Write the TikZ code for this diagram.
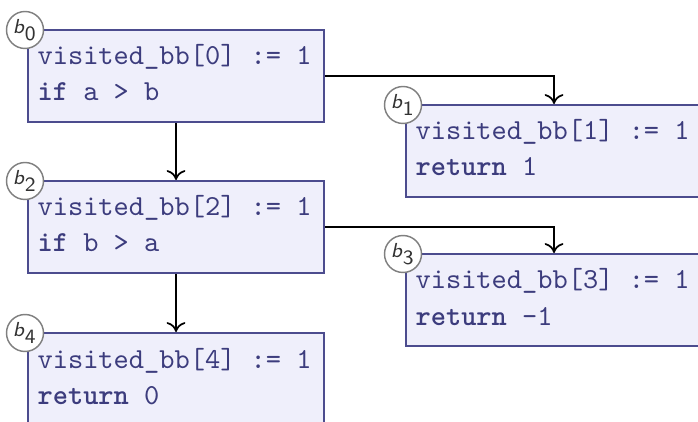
\documentclass[tikz,border=0pt]{standalone}
\usetikzlibrary{arrows.meta}

% one drawing unit
\newlength\pxu
\setlength\pxu{0.3448pt}

\definecolor{bbfill}{RGB}{239,239,251}
\definecolor{bbline}{RGB}{76,76,142}
\definecolor{bbtext}{RGB}{60,60,125}
\definecolor{tagline}{RGB}{128,128,128}

\begin{document}
\begin{tikzpicture}[x=\pxu, y=-\pxu,
  bb/.style={draw=bbline, fill=bbfill, line width=0.7pt,
    minimum width=296\pxu, minimum height=92\pxu,
    inner sep=0pt, anchor=north west},
  code/.style={anchor=base west, inner sep=0pt, text=bbtext,
    font=\ttfamily\fontsize{10pt}{12pt}\selectfont},
  tag/.style={circle, draw=tagline, fill=white, line width=0.5pt,
    minimum size=37\pxu, inner sep=0pt, text=black!80,
    font=\sffamily\scriptsize},
  flow/.style={line width=0.6pt, black,
    -{Computer Modern Rightarrow[length=3.4pt,width=6.5pt]}}]

\useasboundingbox (0,0) rectangle (698,422);
\clip (0,0) rectangle (698,422);

% basic blocks
\node[bb] (b0) at (27,29)  {};
\node[bb] (b1) at (405,104) {};
\node[bb] (b2) at (27,180) {};
\node[bb] (b3) at (405,253) {};
\node[bb] (b4) at (27,332) {};

% control flow
\draw[flow] (b0.east)  -| (b1.north);
\draw[flow] (b0.south) -- (b2.north);
\draw[flow] (b2.east)  -| (b3.north);
\draw[flow] (b2.south) -- (b4.north);

% block contents
\node[code] (b0a) at ([shift={(10,36)}]b0.north west) {visited\_bb[0] := 1};
\node[code] (b0b) at ([shift={(10,72)}]b0.north west) {\textbf{if} a > b};
\node[code] (b1a) at ([shift={(10,36)}]b1.north west) {visited\_bb[1] := 1};
\node[code] (b1b) at ([shift={(10,72)}]b1.north west) {\textbf{return} 1};
\node[code] (b2a) at ([shift={(10,36)}]b2.north west) {visited\_bb[2] := 1};
\node[code] (b2b) at ([shift={(10,72)}]b2.north west) {\textbf{if} b > a};
\node[code] (b3a) at ([shift={(10,36)}]b3.north west) {visited\_bb[3] := 1};
\node[code] (b3b) at ([shift={(10,72)}]b3.north west) {\textbf{return} -1};
\node[code] (b4a) at ([shift={(10,36)}]b4.north west) {visited\_bb[4] := 1};
\node[code] (b4b) at ([shift={(10,72)}]b4.north west) {\textbf{return} 0};

% block tags
\node[tag] (t0) at ([shift={(-2,1)}]b0.north west) {$\textsf{\textit{b}}_{\textsf{0}}$};
\node[tag] (t1) at ([shift={(-2,1)}]b1.north west) {$\textsf{\textit{b}}_{\textsf{1}}$};
\node[tag] (t2) at ([shift={(-2,1)}]b2.north west) {$\textsf{\textit{b}}_{\textsf{2}}$};
\node[tag] (t3) at ([shift={(-2,1)}]b3.north west) {$\textsf{\textit{b}}_{\textsf{3}}$};
\node[tag] (t4) at ([shift={(-2,1)}]b4.north west) {$\textsf{\textit{b}}_{\textsf{4}}$};
\end{tikzpicture}
\end{document}
